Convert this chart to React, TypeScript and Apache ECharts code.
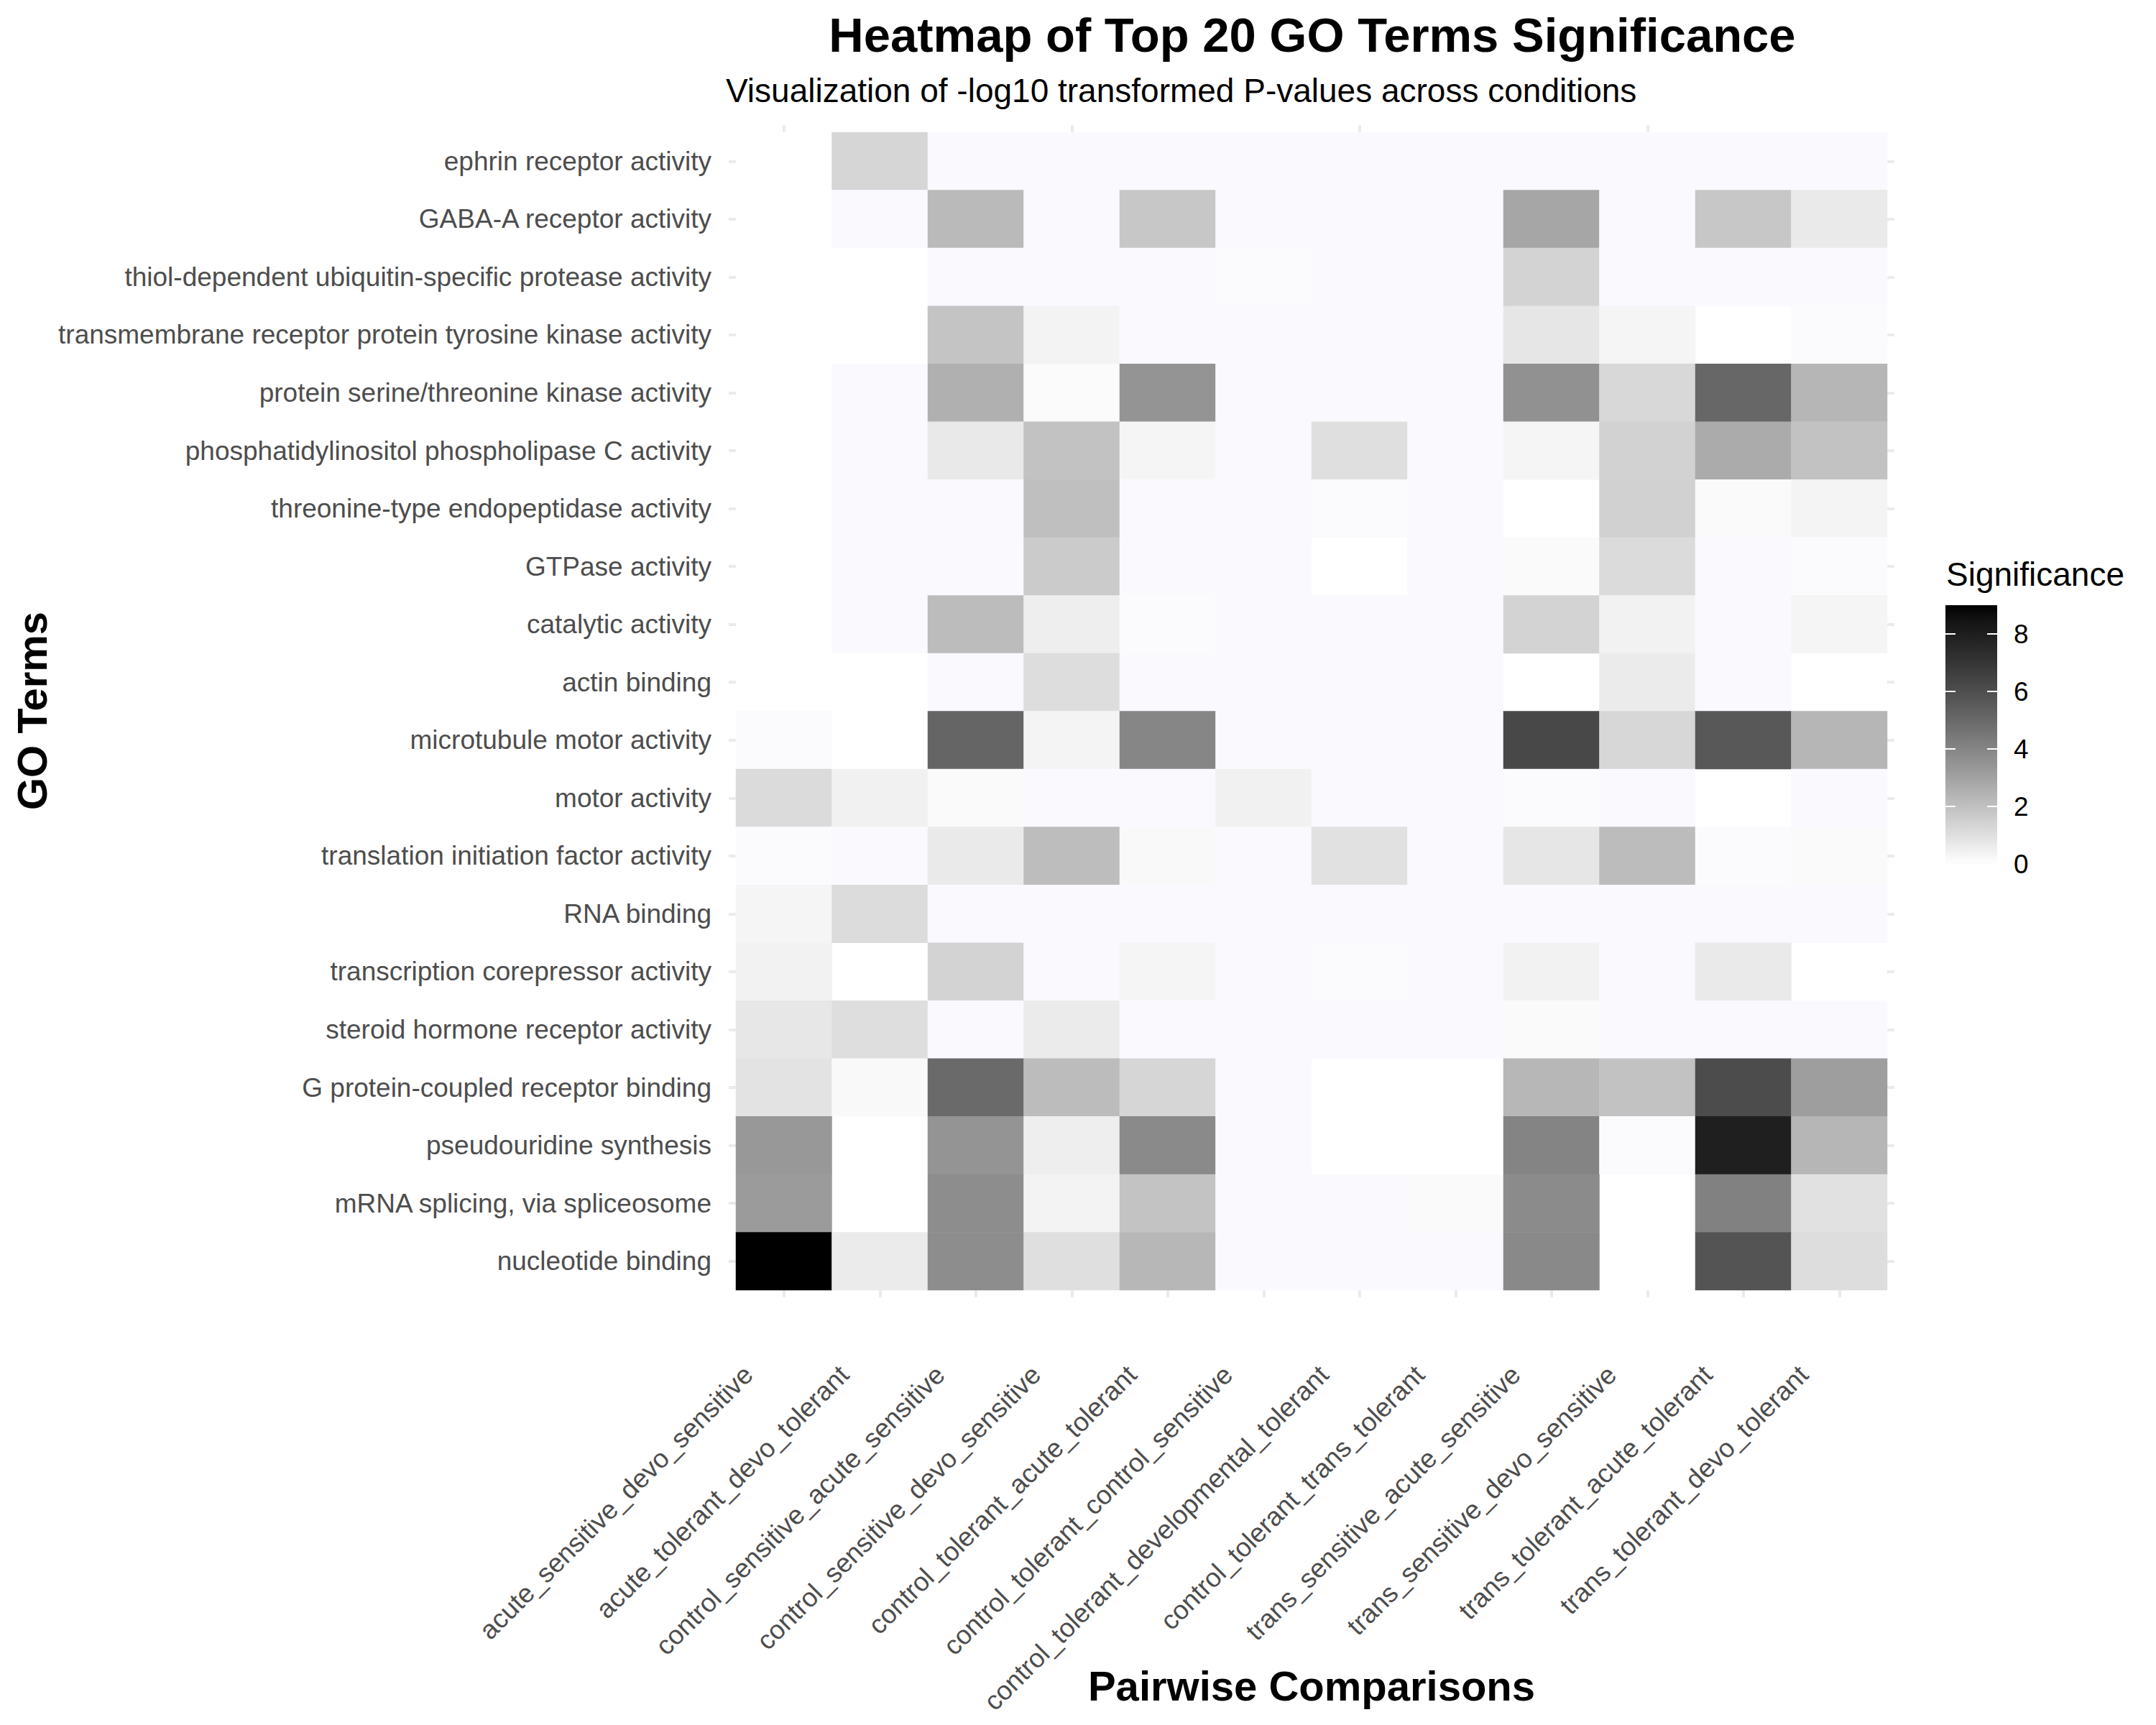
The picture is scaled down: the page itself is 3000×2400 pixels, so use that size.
import React, { useEffect, useRef } from "react";
import * as echarts from "echarts";

// ---------------- DATA ----------------
const COMPARISONS = [
  "acute_sensitive_devo_sensitive",
  "acute_tolerant_devo_tolerant",
  "control_sensitive_acute_sensitive",
  "control_sensitive_devo_sensitive",
  "control_tolerant_acute_tolerant",
  "control_tolerant_control_sensitive",
  "control_tolerant_developmental_tolerant",
  "control_tolerant_trans_tolerant",
  "trans_sensitive_acute_sensitive",
  "trans_sensitive_devo_sensitive",
  "trans_tolerant_acute_tolerant",
  "trans_tolerant_devo_tolerant",
];

const GO_TERMS = [
  "ephrin receptor activity",
  "GABA-A receptor activity",
  "thiol-dependent ubiquitin-specific protease activity",
  "transmembrane receptor protein tyrosine kinase activity",
  "protein serine/threonine kinase activity",
  "phosphatidylinositol phospholipase C activity",
  "threonine-type endopeptidase activity",
  "GTPase activity",
  "catalytic activity",
  "actin binding",
  "microtubule motor activity",
  "motor activity",
  "translation initiation factor activity",
  "RNA binding",
  "transcription corepressor activity",
  "steroid hormone receptor activity",
  "G protein-coupled receptor binding",
  "pseudouridine synthesis",
  "mRNA splicing, via spliceosome",
  "nucleotide binding",
];

const N = null;
// -log10 P per GO term, one value per comparison (null = not present)
const ephrinReceptor = [N, 1.29, 0, 0, 0, 0, 0, 0, 0, 0, 0, 0];
const gabaAReceptor = [N, 0, 2.19, 0, 1.76, 0, 0, 0, 2.86, 0, 1.76, 0.68];
const thiolProtease = [N, N, 0, 0, 0, 0.06, 0, 0, 1.39, 0, 0, 0];
const rtkActivity = [N, N, 1.86, 0.36, 0, 0, 0, 0, 0.77, 0.3, N, 0.06];
const serThrKinase = [N, 0, 2.52, 0.08, 3.48, 0, 0, 0, 3.58, 1.23, 5.06, 2.35];
const piPlcActivity = [N, 0, 0.71, 1.95, 0.3, 0, 1.0, 0, 0.3, 1.43, 2.7, 1.92];
const threonineEndopeptidase = [N, 0, 0, 2.05, 0, 0, 0.03, 0, N, 1.46, 0.16, 0.32];
const gtpaseActivity = [N, 0, 0, 1.62, 0, 0, N, 0, 0.18, 1.13, 0, 0.06];
const catalyticActivity = [N, 0, 2.15, 0.52, 0.06, 0, 0, 0, 1.39, 0.4, 0, 0.3];
const actinBinding = [N, N, 0, 1.07, 0, 0, 0, 0, N, 0.65, 0, N];
const microtubuleMotor = [0.03, N, 5.14, 0.34, 3.96, 0, 0, 0, 6.27, 1.27, 5.63, 2.35];
const motorActivity = [1.13, 0.43, 0.16, 0, 0, 0.43, 0, 0, 0.06, 0, N, 0];
const translationInitiation = [0.06, 0, 0.68, 2.09, 0.21, 0, 0.94, 0, 0.77, 2.12, 0.06, 0.16];
const rnaBinding = [0.3, 1.1, 0, 0, 0, 0, 0, 0, 0, 0, 0, 0];
const corepressorActivity = [0.4, N, 1.39, 0, 0.3, 0, 0.06, 0, 0.4, 0, 0.68, N];
const steroidReceptor = [0.75, 1.04, 0, 0.62, 0, 0, 0, 0, 0.16, 0, 0, 0];
const gpcrBinding = [0.87, 0.21, 4.95, 2.12, 1.29, 0, N, N, 2.29, 1.92, 6.1, 3.13];
const pseudouridineSynthesis = [3.34, N, 3.48, 0.52, 3.83, 0, N, N, 4.04, 0.06, 7.93, 2.35];
const mrnaSplicing = [3.24, N, 3.72, 0.36, 1.89, 0, 0, 0.16, 3.8, N, 4.14, 0.94];
const nucleotideBinding = [9.0, 0.62, 3.72, 1.0, 2.29, 0, 0, 0, 3.86, N, 5.78, 1.07];

const TERM_VALUES = [
  ephrinReceptor, gabaAReceptor, thiolProtease, rtkActivity, serThrKinase,
  piPlcActivity, threonineEndopeptidase, gtpaseActivity, catalyticActivity,
  actinBinding, microtubuleMotor, motorActivity, translationInitiation,
  rnaBinding, corepressorActivity, steroidReceptor, gpcrBinding,
  pseudouridineSynthesis, mrnaSplicing, nucleotideBinding,
];

const SCALE_MIN = 0;
const SCALE_MAX = 9;
const LEGEND_TICKS = [0, 2, 4, 6, 8];

// ---------------- COLOUR (Lab grey ramp like ggplot) ----------------
const ZERO_COLOR = "#FAF9FE";

function fromLin(v: number) {
  v = v <= 0.0031308 ? 12.92 * v : 1.055 * Math.pow(v, 1 / 2.4) - 0.055;
  return Math.round(Math.max(0, Math.min(1, v)) * 255);
}
function greyFromL(L: number) {
  const fy = (L + 16) / 116;
  const Y = fy * fy * fy > 0.008856 ? fy * fy * fy : (fy - 16 / 116) / 7.787;
  const h = fromLin(Y).toString(16).padStart(2, "0");
  return "#" + h + h + h;
}
function buildStops(n: number) {
  const out: string[] = [ZERO_COLOR];
  for (let i = 1; i < n; i++) {
    const t = i / (n - 1);
    out.push(greyFromL(100 * (1 - t)));
  }
  return out;
}

// ---------------- LAYOUT ----------------
const FONT = '"Liberation Sans", Arial, Helvetica, sans-serif';
const GRID = { left: 1024, top: 184, width: 1602, height: 1611 };
const CB = { x: 2707, w: 72, yZero: 1202, pxPerUnit: 40 };

export default function App() {
  const ref = useRef<HTMLDivElement>(null);

  useEffect(() => {
    if (!ref.current) return;
    const chart = echarts.init(ref.current, null, { renderer: "svg" });
    const stops = buildStops(91);

    const data: any[] = [];
    TERM_VALUES.forEach((row, i) => {
      row.forEach((v, j) => {
        if (v !== null) data.push([j, i, v]);
      });
    });

    const gradient = new echarts.graphic.LinearGradient(
      0, 1, 0, 0,
      stops.map((c, i) => ({ offset: i / (stops.length - 1), color: c }))
    );

    const cbTop = CB.yZero - (SCALE_MAX - SCALE_MIN) * CB.pxPerUnit;
    const legendEls: any[] = [
      {
        type: "rect",
        shape: { x: CB.x, y: cbTop, width: CB.w, height: (SCALE_MAX - SCALE_MIN) * CB.pxPerUnit },
        style: { fill: gradient },
        z: 10,
      },
      {
        type: "text",
        x: 2708,
        y: 799,
        style: {
          text: "Significance", fontFamily: FONT, fontSize: 46, fill: "#000",
          align: "left", verticalAlign: "middle", textAlign: "left", textVerticalAlign: "middle",
        },
        z: 10,
      },
    ];
    LEGEND_TICKS.forEach((t) => {
      const y = CB.yZero - (t - SCALE_MIN) * CB.pxPerUnit;
      legendEls.push(
        { type: "line", shape: { x1: CB.x, y1: y, x2: CB.x + 14, y2: y }, style: { stroke: "#fff", lineWidth: 2 }, z: 11 },
        { type: "line", shape: { x1: CB.x + CB.w - 14, y1: y, x2: CB.x + CB.w, y2: y }, style: { stroke: "#fff", lineWidth: 2 }, z: 11 },
        {
          type: "text", x: 2802, y,
          style: {
            text: String(t), fontFamily: FONT, fontSize: 37, fill: "#000",
            align: "left", verticalAlign: "middle", textAlign: "left", textVerticalAlign: "middle",
          },
          z: 11,
        }
      );
    });

    const tickStyle = { show: true, alignWithLabel: true, length: 10, lineStyle: { color: "#EBEBEB", width: 4 } };

    chart.setOption({
      animation: false,
      backgroundColor: "#ffffff",
      grid: { left: GRID.left, top: GRID.top, width: GRID.width, height: GRID.height, containLabel: false },
      xAxis: [
        {
          type: "category",
          data: COMPARISONS,
          position: "bottom",
          axisLine: { show: false },
          axisTick: tickStyle,
          splitLine: { show: false },
          axisLabel: {
            interval: 0,
            rotate: 45,
            margin: 62,
            padding: [0, 70, 0, 0],
            fontFamily: FONT,
            fontSize: 37,
            color: "#4D4D4D",
          },
        },
        {
          type: "category",
          data: COMPARISONS,
          position: "top",
          axisLine: { show: false },
          axisTick: tickStyle,
          axisLabel: { show: false },
          splitLine: { show: false },
        },
      ],
      yAxis: [
        {
          type: "category",
          data: GO_TERMS,
          inverse: true,
          position: "left",
          axisLine: { show: false },
          axisTick: tickStyle,
          splitLine: { show: false },
          axisLabel: {
            interval: 0,
            margin: 34,
            fontFamily: FONT,
            fontSize: 37,
            color: "#4D4D4D",
          },
        },
        {
          type: "category",
          data: GO_TERMS,
          inverse: true,
          position: "right",
          axisLine: { show: false },
          axisTick: tickStyle,
          axisLabel: { show: false },
          splitLine: { show: false },
        },
      ],
      visualMap: {
        type: "continuous",
        show: false,
        min: SCALE_MIN,
        max: SCALE_MAX,
        dimension: 2,
        seriesIndex: 0,
        inRange: { color: stops },
      },
      series: [
        {
          type: "heatmap",
          xAxisIndex: 0,
          yAxisIndex: 0,
          data,
          itemStyle: { borderWidth: 0 },
          emphasis: { disabled: true },
        },
      ],
      graphic: [
        {
          type: "text",
          x: 1826,
          y: 48,
          style: {
            text: "Heatmap of Top 20 GO Terms Significance", fontFamily: FONT, fontSize: 67, fontWeight: "bold",
            fill: "#000", align: "center", verticalAlign: "middle", textAlign: "center", textVerticalAlign: "middle",
          },
        },
        {
          type: "text",
          x: 1010,
          y: 126,
          style: {
            text: "Visualization of -log10 transformed P-values across conditions", fontFamily: FONT, fontSize: 46,
            fill: "#000", align: "left", verticalAlign: "middle", textAlign: "left", textVerticalAlign: "middle",
          },
        },
        {
          type: "text",
          x: 1825,
          y: 2345,
          style: {
            text: "Pairwise Comparisons", fontFamily: FONT, fontSize: 58, fontWeight: "bold",
            fill: "#000", align: "center", verticalAlign: "middle", textAlign: "center", textVerticalAlign: "middle",
          },
        },
        {
          type: "text",
          x: 44,
          y: 989,
          rotation: Math.PI / 2,
          style: {
            text: "GO Terms", fontFamily: FONT, fontSize: 58, fontWeight: "bold",
            fill: "#000", align: "center", verticalAlign: "middle", textAlign: "center", textVerticalAlign: "middle",
          },
        },
        ...legendEls,
      ],
    });

    return () => chart.dispose();
  }, []);

  return (
    <div
      ref={ref}
      style={{ position: "absolute", left: 0, top: 0, width: 3000, height: 2400, background: "#fff" }}
    />
  );
}
